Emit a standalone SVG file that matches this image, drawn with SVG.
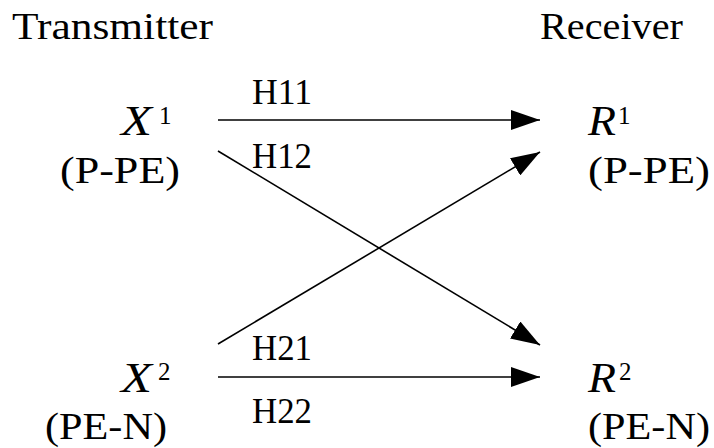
<svg xmlns="http://www.w3.org/2000/svg" width="714" height="448" viewBox="0 0 714 448">
<style>
text{font-family:"Liberation Serif","Times New Roman",serif;fill:#000}
.big{font-size:38px}
.nd{font-size:37px}
.lab{font-size:35px}
.it{font-style:italic;font-size:42px}
.sup{font-size:25px}
.ln{stroke:#000;stroke-width:1.6;fill:none}
</style>
<defs>
<marker id="ah" viewBox="0 0 29 20" refX="29" refY="10" markerWidth="29" markerHeight="20" markerUnits="userSpaceOnUse" orient="auto">
<path d="M0,0 L29,10 L0,20 z" fill="#000"/>
</marker>
</defs>
<rect width="714" height="448" fill="#fff"/>
<g id="headers">
<text class="big" x="12" y="39" textLength="201" lengthAdjust="spacingAndGlyphs">Transmitter</text>
<text class="big" x="540" y="39" textLength="143" lengthAdjust="spacingAndGlyphs">Receiver</text>
</g>
<g id="X1">
<text class="it" x="121" y="135" textLength="31" lengthAdjust="spacingAndGlyphs">X</text>
<text class="sup" x="159" y="124">1</text>
<text class="nd" x="60" y="183" textLength="120" lengthAdjust="spacingAndGlyphs">(P-PE)</text>
</g>
<g id="X2">
<text class="it" x="121" y="392" textLength="31" lengthAdjust="spacingAndGlyphs">X</text>
<text class="sup" x="158" y="380">2</text>
<text class="nd" x="45" y="439" textLength="122" lengthAdjust="spacingAndGlyphs">(PE-N)</text>
</g>
<g id="R1">
<text class="it" x="588" y="135" textLength="28" lengthAdjust="spacingAndGlyphs">R</text>
<text class="sup" x="618" y="124">1</text>
<text class="nd" x="588" y="183" textLength="122" lengthAdjust="spacingAndGlyphs">(P-PE)</text>
</g>
<g id="R2">
<text class="it" x="588" y="392" textLength="28" lengthAdjust="spacingAndGlyphs">R</text>
<text class="sup" x="619" y="380">2</text>
<text class="nd" x="588" y="439" textLength="122" lengthAdjust="spacingAndGlyphs">(PE-N)</text>
</g>
<g id="connectors">
<path class="ln" d="M218,120 L540,120" marker-end="url(#ah)"/>
<path class="ln" d="M218,151 L540,345" marker-end="url(#ah)"/>
<path class="ln" d="M218,344 L540,152" marker-end="url(#ah)"/>
<path class="ln" d="M218,377 L540,377" marker-end="url(#ah)"/>
<text class="lab" x="252" y="104" textLength="60" lengthAdjust="spacingAndGlyphs">H11</text>
<text class="lab" x="252" y="168" textLength="60" lengthAdjust="spacingAndGlyphs">H12</text>
<text class="lab" x="252" y="360" textLength="60" lengthAdjust="spacingAndGlyphs">H21</text>
<text class="lab" x="252" y="423" textLength="60" lengthAdjust="spacingAndGlyphs">H22</text>
</g>
</svg>
